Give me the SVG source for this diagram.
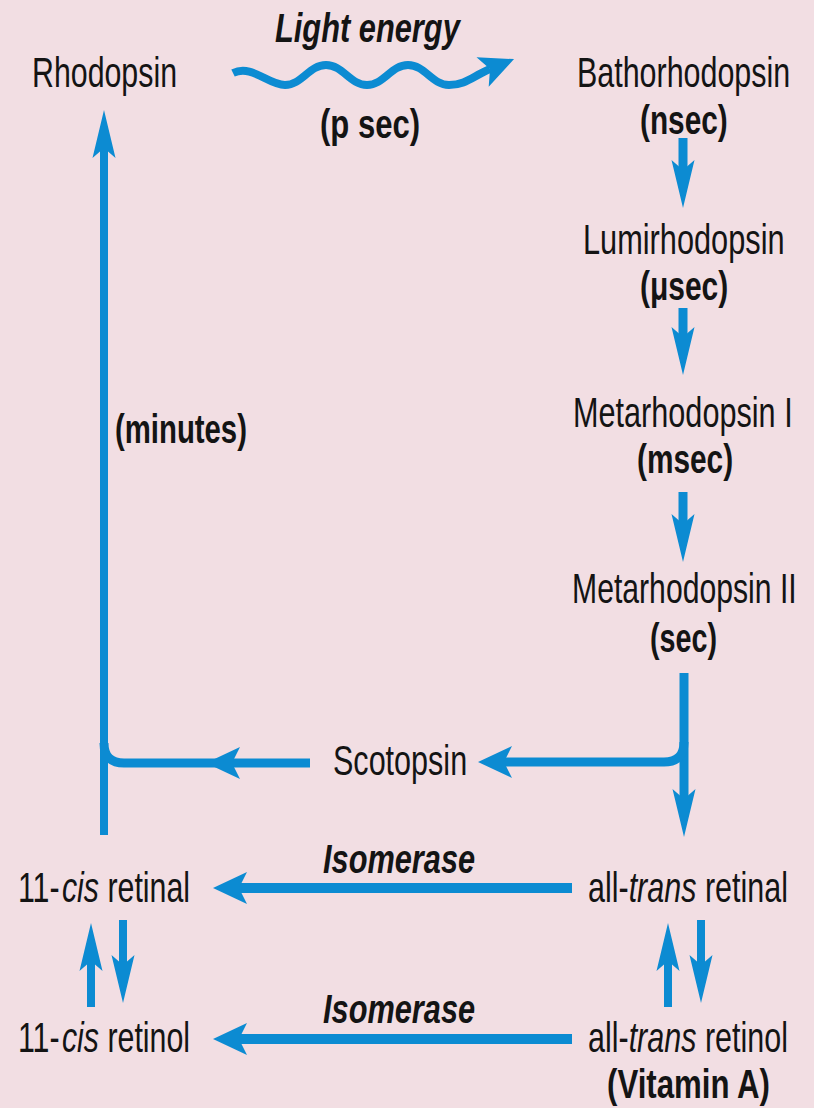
<svg xmlns="http://www.w3.org/2000/svg" width="814" height="1108" viewBox="0 0 814 1108">
<style>
.t{font-family:"Liberation Sans",Arial,sans-serif;font-size:42px;fill:#141414}
.b{font-family:"Liberation Sans",Arial,sans-serif;font-size:40px;font-weight:bold;fill:#141414}
.bi{font-family:"Liberation Sans",Arial,sans-serif;font-size:40px;font-weight:bold;font-style:italic;fill:#141414}
.i{font-style:italic}
.ln{fill:none;stroke:#0C8BD2;stroke-width:9}
.th{fill:none;stroke:#0C8BD2;stroke-width:10}
.sm{fill:none;stroke:#0C8BD2;stroke-width:8}
</style>
<defs>
<marker id="slim" markerUnits="userSpaceOnUse" orient="auto" markerWidth="60" markerHeight="30" refX="0" refY="0" viewBox="-12 -15 60 30" overflow="visible">
<path d="M38,0 L-10,-11.5 L0,0 L-10,11.5 Z" fill="#0C8BD2"/>
</marker>
<marker id="wide" markerUnits="userSpaceOnUse" orient="auto" markerWidth="50" markerHeight="40" refX="0" refY="0" viewBox="-12 -20 50 40" overflow="visible">
<path d="M26,0 L-8,-16 L0,0 L-8,16 Z" fill="#0C8BD2"/>
</marker>
</defs>
<rect x="0" y="0" width="814" height="1108" fill="#F2DEE3"/>

<g id="connectors">
<path class="sm" d="M233,73 C252,64 268,85 285,85 S309,65 326,65 S350,85 367,85 S391,65 408,65 S432,85 449,85 S473,76 490,69" marker-end="url(#wide)"/>
<path class="ln" d="M683,138 L683,170" marker-end="url(#slim)"/>
<path class="ln" d="M683,308 L683,337" marker-end="url(#slim)"/>
<path class="ln" d="M683,492 L683,524" marker-end="url(#slim)"/>
<path class="ln" d="M684,673 L684,799" marker-end="url(#slim)"/>
<path class="ln" d="M684,742 Q684,762 664,762 L504,762" marker-end="url(#wide)"/>
<path class="ln" d="M310,763 L232,763" marker-end="url(#wide)"/>
<path class="ln" d="M232,763 L124,763 Q104,763 104,743"/>
<path class="sm" d="M104,835 L104,148" marker-end="url(#slim)"/>
<path class="th" d="M572,888 L239,888" marker-end="url(#wide)"/>
<path class="th" d="M572,1039 L239,1039" marker-end="url(#wide)"/>
<path class="sm" d="M91,1007 L91,961" marker-end="url(#slim)"/>
<path class="sm" d="M123,920 L123,965" marker-end="url(#slim)"/>
<path class="sm" d="M668,1007 L668,961" marker-end="url(#slim)"/>
<path class="sm" d="M701,920 L701,965" marker-end="url(#slim)"/>
</g>

<g id="light-label">
<text class="bi" transform="translate(275,42) scale(0.77,1)" textLength="240" lengthAdjust="spacingAndGlyphs">Light energy</text>
<text class="b" transform="translate(320,138) scale(0.77,1)" textLength="130" lengthAdjust="spacingAndGlyphs">(p sec)</text>
</g>
<g id="rhodopsin"><text class="t" transform="translate(32,87) scale(0.725,1)" textLength="200" lengthAdjust="spacingAndGlyphs">Rhodopsin</text></g>
<g id="bathorhodopsin">
<text class="t" transform="translate(577,87) scale(0.725,1)" textLength="294" lengthAdjust="spacingAndGlyphs">Bathorhodopsin</text>
<text class="b" transform="translate(640,134) scale(0.75,1)" textLength="117" lengthAdjust="spacingAndGlyphs">(nsec)</text>
</g>
<g id="lumirhodopsin">
<text class="t" transform="translate(583,254) scale(0.725,1)" textLength="278" lengthAdjust="spacingAndGlyphs">Lumirhodopsin</text>
<text class="b" transform="translate(640,300) scale(0.76,1)" textLength="116" lengthAdjust="spacingAndGlyphs">(μsec)</text>
</g>
<g id="metarhodopsin1">
<text class="t" transform="translate(573,427) scale(0.725,1)" textLength="303" lengthAdjust="spacingAndGlyphs">Metarhodopsin I</text>
<text class="b" transform="translate(637,473) scale(0.745,1)" textLength="129" lengthAdjust="spacingAndGlyphs">(msec)</text>
</g>
<g id="metarhodopsin2">
<text class="t" transform="translate(572,603) scale(0.725,1)" textLength="310" lengthAdjust="spacingAndGlyphs">Metarhodopsin II</text>
<text class="b" transform="translate(650,652) scale(0.72,1)" textLength="93" lengthAdjust="spacingAndGlyphs">(sec)</text>
</g>
<g id="minutes-label"><text class="b" transform="translate(115,443) scale(0.733,1)" textLength="180" lengthAdjust="spacingAndGlyphs">(minutes)</text></g>
<g id="scotopsin"><text class="t" transform="translate(333,775) scale(0.725,1)" textLength="185" lengthAdjust="spacingAndGlyphs">Scotopsin</text></g>
<g id="isomerase-labels">
<text class="bi" transform="translate(323,873) scale(0.768,1)" textLength="198" lengthAdjust="spacingAndGlyphs">Isomerase</text>
<text class="bi" transform="translate(323,1023) scale(0.768,1)" textLength="198" lengthAdjust="spacingAndGlyphs">Isomerase</text>
</g>
<g id="cis-retinal" transform="translate(18,902) scale(0.723,1)">
<text class="t" x="0" y="0">11-</text>
<text class="t i" x="60.7" y="0">cis</text>
<text class="t" x="123.7" y="0">retinal</text>
</g>
<g id="cis-retinol" transform="translate(18,1052) scale(0.723,1)">
<text class="t" x="0" y="0">11-</text>
<text class="t i" x="60.7" y="0">cis</text>
<text class="t" x="123.7" y="0">retinol</text>
</g>
<g id="trans-retinal" transform="translate(588,902) scale(0.726,1)">
<text class="t" x="0" y="0">all-</text>
<text class="t i" x="56" y="0">trans</text>
<text class="t" x="161.1" y="0">retinal</text>
</g>
<g id="trans-retinol">
<g transform="translate(588,1052) scale(0.726,1)">
<text class="t" x="0" y="0">all-</text>
<text class="t i" x="56" y="0">trans</text>
<text class="t" x="161.1" y="0">retinol</text>
</g>
<text class="b" transform="translate(607,1098) scale(0.772,1)" textLength="211" lengthAdjust="spacingAndGlyphs">(Vitamin A)</text>
</g>
</svg>
